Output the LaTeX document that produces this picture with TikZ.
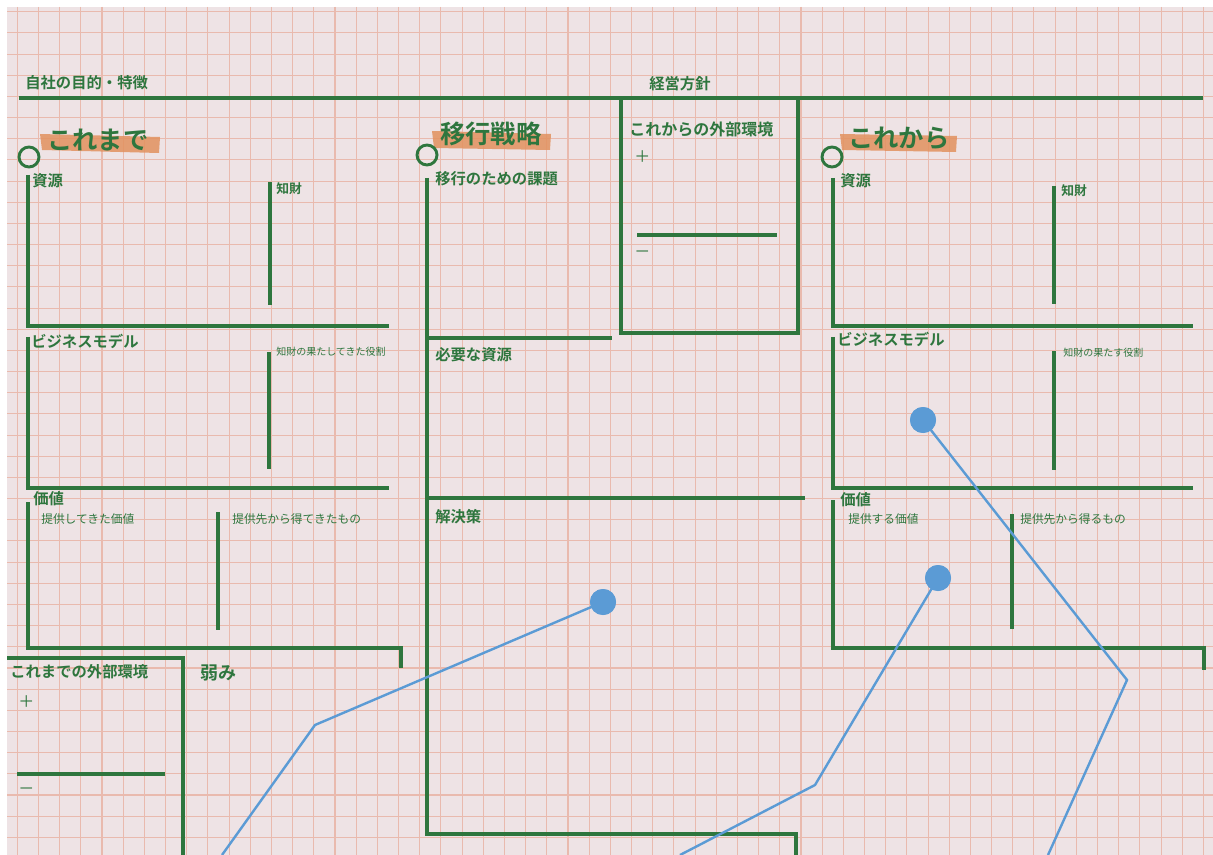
\documentclass[tikz,border=0pt]{standalone}
\usepackage{fontspec}
\setmainfont{Noto Sans CJK JP}[BoldFont={* Bold}]
\begin{document}
\begin{tikzpicture}[x=0.75pt, y=-0.75pt, font=\bfseries,
		wall/.style={draw=leaf, line width=2.3pt},
		lbl/.style={anchor=west, inner sep=0pt, text=leaf, font=\bfseries\fontsize{11.5pt}{12pt}\selectfont},
		sublbl/.style={lbl, font=\fontsize{8.8pt}{10pt}\selectfont},
		tinylbl/.style={lbl, font=\fontsize{7.5pt}{8pt}\selectfont},
		headlbl/.style={lbl, font=\bfseries\fontsize{19pt}{20pt}\selectfont},
		ring/.style={circle, draw=leaf, line width=2.2pt, minimum size=15pt, inner sep=0pt},
		pin/.style={circle, fill=pinblue, minimum size=19.5pt, inner sep=0pt},
		pinline/.style={draw=pinblue, line width=1.8pt}]
	\definecolor{leaf}{RGB}{46,118,62}
	\definecolor{paper}{RGB}{238,227,229}
	\definecolor{gridline}{RGB}{233,186,174}
	\definecolor{brush}{RGB}{226,145,95}
	\definecolor{pinblue}{RGB}{91,155,213}
	\useasboundingbox (0,0) rectangle (1213,855);
	\fill[white] (0,0) rectangle (1213,855);
	\fill[paper] (7,7) rectangle (1213,855);
	% grid paper
	\foreach \i in {0,...,56}
		\draw[gridline, line width=0.8pt] ({17.3+21.18*\i},7) -- ({17.3+21.18*\i},855);
	\foreach \j in {0,...,39}
		\draw[gridline, line width=0.8pt] (7,{11.7+21.17*\j}) -- (1213,{11.7+21.17*\j});

	% header
	\node[lbl] (purpose) at (25,83) {自社の目的・特徴};
	\node[lbl] (policy) at (649,84) {経営方針};
	\draw[wall] (19,98) -- (1203,98);

	% brush marks behind the titles
	\fill[brush, opacity=0.85] (40,134) -- (160,137) -- (159,153) -- (42,150) -- cycle;
	\fill[brush, opacity=0.85] (432,131) -- (551,134) -- (550,150) -- (434,148) -- cycle;
	\fill[brush, opacity=0.85] (840,134) -- (957,136) -- (956,152) -- (842,150) -- cycle;

	% これまで
	\node[headlbl] (past) at (47,140) {これまで};
	\node[ring] (pastring) at (29,157) {};
	\node[lbl] (pastres) at (32,181) {資源};
	\draw[wall] (28,175) -- (28,326) -- (389,326);
	\draw[wall] (270,182) -- (270,305);
	\node[sublbl, font=\bfseries\fontsize{9.6pt}{10pt}\selectfont] (pastip) at (276,189) {知財};
	\node[lbl] (pastbm) at (31,341) {ビジネスモデル};
	\draw[wall] (28,337) -- (28,488) -- (389,488);
	\draw[wall] (269,352) -- (269,469);
	\node[tinylbl] (pastiprole) at (276,352) {知財の果たしてきた役割};
	\node[lbl] (pastval) at (33,499) {価値};
	\draw[wall] (28,502) -- (28,648) -- (401,648) -- (401,668);
	\node[sublbl] (pastgive) at (41,519) {提供してきた価値};
	\draw[wall] (218,512) -- (218,630);
	\node[sublbl] (pastget) at (232,519) {提供先から得てきたもの};
	\draw[wall] (7,658) -- (183,658) -- (183,855);
	\node[lbl] (pastenv) at (10,672) {これまでの外部環境};
	\node[lbl, font=\fontsize{12pt}{12pt}\selectfont] (pastplus) at (18,702) {＋};
	\draw[wall] (17,774) -- (165,774);
	\node[lbl, font=\fontsize{12pt}{12pt}\selectfont] (pastminus) at (18,791) {－};
	\node[lbl, font=\bfseries\fontsize{13.5pt}{14pt}\selectfont] (weak) at (200,673) {弱み};

	% 移行戦略
	\node[headlbl] (shift) at (440,134) {移行戦略};
	\node[ring] (shiftring) at (427,155) {};
	\node[lbl] (task) at (435,179) {移行のための課題};
	\draw[wall] (427,178) -- (427,834) -- (796,834) -- (796,855);
	\draw[wall] (427,338) -- (612,338);
	\node[lbl] (need) at (435,355) {必要な資源};
	\draw[wall] (427,498) -- (805,498);
	\node[lbl] (solve) at (435,517) {解決策};

	% これからの外部環境
	\draw[wall] (621,98) -- (621,333) -- (798,333) -- (798,98);
	\node[lbl, font=\bfseries\fontsize{12pt}{12pt}\selectfont] (futenv) at (629,129) {これからの外部環境};
	\node[lbl, font=\fontsize{12pt}{12pt}\selectfont] (futplus) at (634,157) {＋};
	\draw[wall] (637,235) -- (777,235);
	\node[lbl, font=\fontsize{12pt}{12pt}\selectfont] (futminus) at (634,254) {－};

	% これから
	\node[headlbl] (future) at (848,138) {これから};
	\node[ring] (futring) at (832,157) {};
	\node[lbl] (futres) at (840,181) {資源};
	\draw[wall] (833,178) -- (833,326) -- (1193,326);
	\draw[wall] (1054,186) -- (1054,304);
	\node[sublbl, font=\bfseries\fontsize{9.6pt}{10pt}\selectfont] (futip) at (1061,191) {知財};
	\node[lbl] (futbm) at (837,339) {ビジネスモデル};
	\draw[wall] (833,337) -- (833,488) -- (1193,488);
	\draw[wall] (1054,351) -- (1054,470);
	\node[tinylbl] (futiprole) at (1063,353) {知財の果たす役割};
	\node[lbl] (futval) at (840,500) {価値};
	\draw[wall] (833,500) -- (833,648) -- (1204,648) -- (1204,670);
	\node[sublbl] (futgive) at (848,519) {提供する価値};
	\draw[wall] (1012,514) -- (1012,629);
	\node[sublbl] (futget) at (1020,519) {提供先から得るもの};

	% pins
	\node[pin] (pinA) at (603,602) {};
	\node[pin] (pinB) at (938,578) {};
	\node[pin] (pinC) at (923,420) {};
	\coordinate (bendA) at (315,725);
	\coordinate (endA) at (222,855);
	\coordinate (bendB) at (815,785);
	\coordinate (endB) at (680,855);
	\coordinate (bendC) at (1127,680);
	\coordinate (endC) at (1048,855);
	\draw[pinline] (pinA.center) -- (bendA) -- (endA);
	\draw[pinline] (pinB.center) -- (bendB) -- (endB);
	\draw[pinline] (pinC.center) -- (bendC) -- (endC);
	\node[pin] at (pinA) {};
	\node[pin] at (pinB) {};
	\node[pin] at (pinC) {};
\end{tikzpicture}
\end{document}
